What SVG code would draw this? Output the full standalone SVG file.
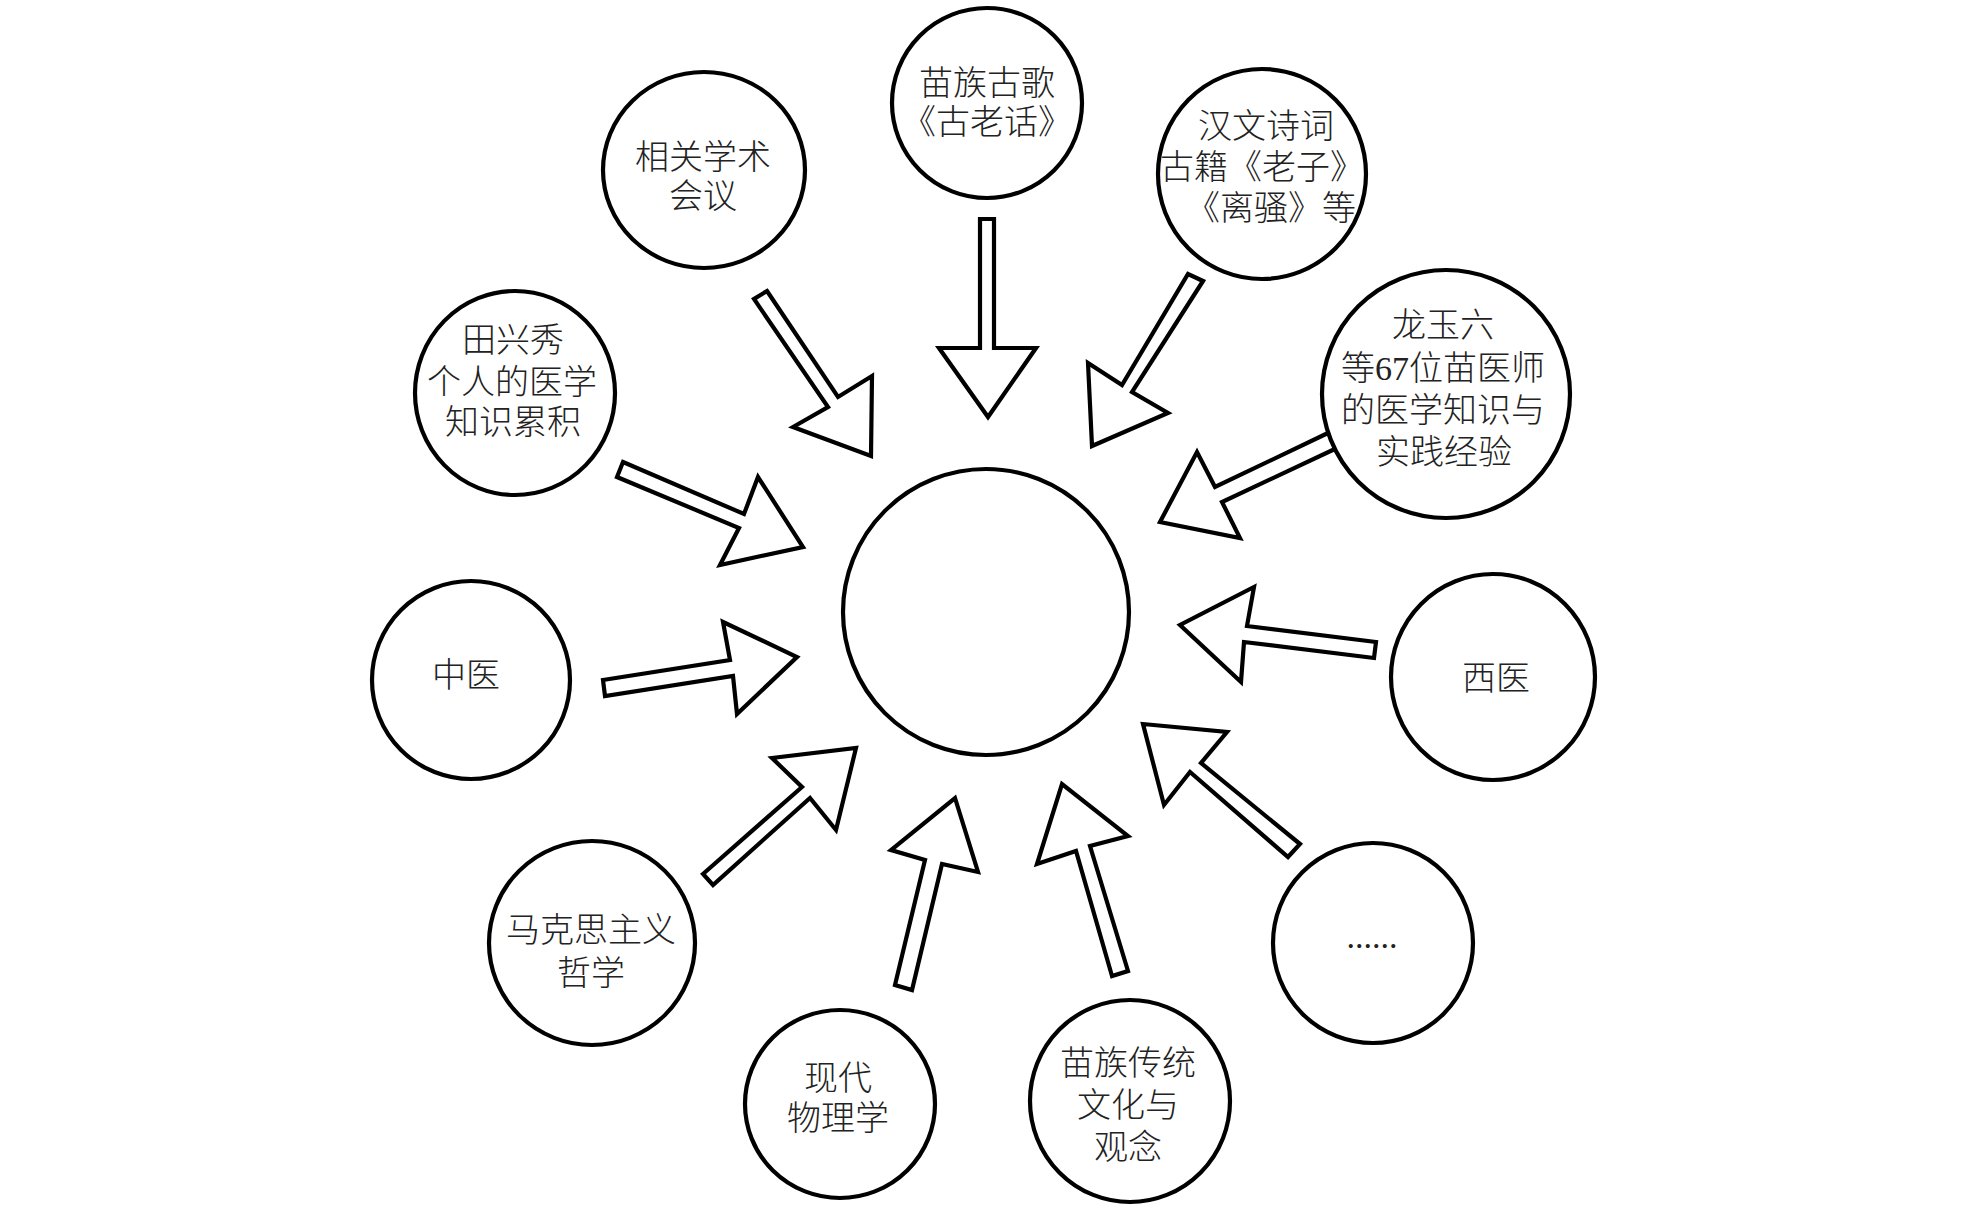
<svg xmlns="http://www.w3.org/2000/svg" width="1968" height="1208" viewBox="0 0 1968 1208">
<style>
.node ellipse{fill:#fff;stroke:#000;stroke-width:4.2}
.node text{font-family:"Liberation Serif","Noto Sans CJK SC",serif;font-size:34px;font-weight:300;fill:#222;text-anchor:middle;dominant-baseline:central}
#connectors polygon{fill:#fff;stroke:#000;stroke-width:4.2;stroke-linejoin:miter}
</style>
<rect width="1968" height="1208" fill="#fff"/>
<g id="connectors">
<polygon points="767,291 838,397 872,376 871,456 793,427 828,407 754,299"/>
<polygon points="980,219 980,348 939,348 988,417 1036,348 994,348 994,219"/>
<polygon points="1203,281 1132,392 1168,413 1092,446 1088,363 1122,385 1188,274"/>
<polygon points="1328,433 1215,487 1197,452 1160,522 1240,538 1222,502 1337,448"/>
<polygon points="623,462 744,514 758,477 803,547 720,565 739,528 617,477"/>
<polygon points="603,680 730,660 723,622 797,657 737,714 733,676 605,696"/>
<polygon points="703,874 802,787 772,758 856,748 836,830 810,798 713,885"/>
<polygon points="895,985 925,860 891,850 955,798 978,872 942,864 912,990"/>
<polygon points="1376,642 1247,626 1254,587 1180,625 1241,682 1244,642 1374,658"/>
<polygon points="1300,844 1201,763 1227,732 1143,724 1164,805 1190,772 1288,857"/>
<polygon points="1112,976 1076,851 1037,864 1062,784 1128,836 1090,846 1128,971"/>
</g>
<g id="center" class="node"><ellipse cx="986" cy="612" rx="143" ry="143"/></g>
<g id="n-xiangguan" class="node"><ellipse cx="704" cy="170" rx="101" ry="98"/>
<text x="703" y="157">相关学术</text><text x="703" y="196">会议</text></g>
<g id="n-guge" class="node"><ellipse cx="987" cy="103" rx="95" ry="95"/>
<text x="987" y="83">苗族古歌</text><text x="987" y="122">《古老话》</text></g>
<g id="n-hanwen" class="node"><ellipse cx="1262" cy="174" rx="104" ry="105"/>
<text x="1266" y="126">汉文诗词</text><text x="1262" y="167">古籍《老子》</text><text x="1271" y="208">《离骚》等</text></g>
<g id="n-longyuliu" class="node"><ellipse cx="1446" cy="394" rx="124" ry="124"/>
<text x="1443" y="325">龙玉六</text><text x="1443" y="368">等67位苗医师</text><text x="1443" y="410">的医学知识与</text><text x="1444" y="452">实践经验</text></g>
<g id="n-tianxingxiu" class="node"><ellipse cx="515" cy="393" rx="100" ry="102"/>
<text x="513" y="340">田兴秀</text><text x="512" y="382">个人的医学</text><text x="513" y="422">知识累积</text></g>
<g id="n-zhongyi" class="node"><ellipse cx="471" cy="680" rx="99" ry="99"/>
<text x="466" y="675">中医</text></g>
<g id="n-xiyi" class="node"><ellipse cx="1493" cy="677" rx="102" ry="103"/>
<text x="1496" y="678">西医</text></g>
<g id="n-makesi" class="node"><ellipse cx="592" cy="943" rx="103" ry="102"/>
<text x="591" y="930">马克思主义</text><text x="591" y="973">哲学</text></g>
<g id="n-more" class="node"><ellipse cx="1373" cy="943" rx="100" ry="100"/>
<text x="1372" y="936">......</text></g>
<g id="n-wuli" class="node"><ellipse cx="840" cy="1104" rx="95" ry="94"/>
<text x="838" y="1078">现代</text><text x="838" y="1118">物理学</text></g>
<g id="n-chuantong" class="node"><ellipse cx="1130" cy="1101" rx="100" ry="101"/>
<text x="1128" y="1063">苗族传统</text><text x="1128" y="1105">文化与</text><text x="1128" y="1147">观念</text></g>
</svg>
